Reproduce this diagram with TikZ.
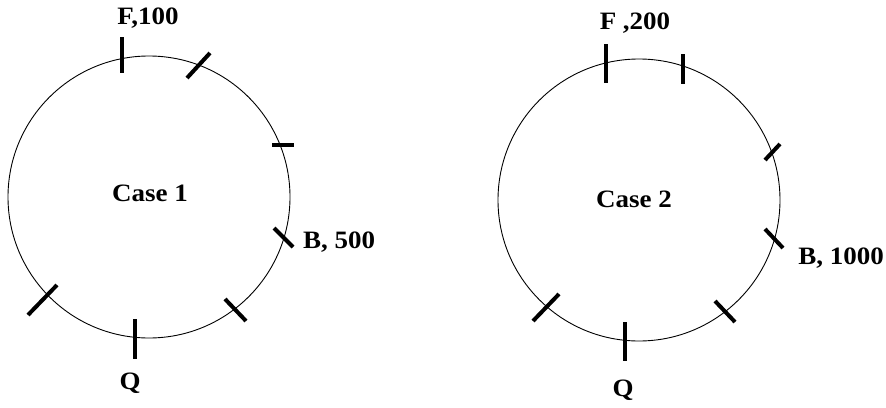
\documentclass[tikz,border=0pt]{standalone}
\usepackage{fontspec}
\setmainfont{Liberation Serif}[FakeStretch=1.08]
\usetikzlibrary{positioning}

\begin{document}
\begin{tikzpicture}[
		x=1pt, y=-1pt,
		ring/.style={
			circle,
			draw,
			line width=0.9pt,
			minimum size=282pt,
			inner sep=0pt
		},
		lbl/.style={
			font=\fontsize{25}{30}\selectfont\bfseries,
			inner sep=0pt
		},
		tickline/.style={line width=4pt}
		]
		\useasboundingbox (0,0) rectangle (886,407);
		
		% Case 1
		\node[ring] (c1) at (149,197) {};
		\node[lbl] (case1) at (150,193) {Case 1};
		\node[lbl] (f1) at (148,18) {F,100};
		\node[lbl, anchor=west] (b1) at (303,242) {B, 500};
		\node[lbl] (q1) at (130,383) {Q};
		\draw[tickline] (122,37) -- (122,73);
		\draw[tickline] (187,78) -- (210,53);
		\draw[tickline] (272,145) -- (294,145);
		\draw[tickline] (274,228) -- (293,247);
		\draw[tickline] (225,299) -- (246,321);
		\draw[tickline] (135,319) -- (135,359);
		\draw[tickline] (28,315) -- (57,285);
		
		% Case 2
		\node[ring] (c2) at (639,200) {};
		\node[lbl] (case2) at (634,199) {Case 2};
		\node[lbl] (f2) at (635,23) {F ,200};
		\node[lbl, anchor=east] (b2) at (884,258) {B, 1000};
		\node[lbl] (q2) at (623,390) {Q};
		\draw[tickline] (606,44) -- (606,83);
		\draw[tickline] (683,54) -- (683,84);
		\draw[tickline] (765,160) -- (780,144);
		\draw[tickline] (765,229) -- (783,248);
		\draw[tickline] (715,301) -- (735,322);
		\draw[tickline] (625,322) -- (625,361);
		\draw[tickline] (533,321) -- (559,294);
	\end{tikzpicture}
\end{document}
